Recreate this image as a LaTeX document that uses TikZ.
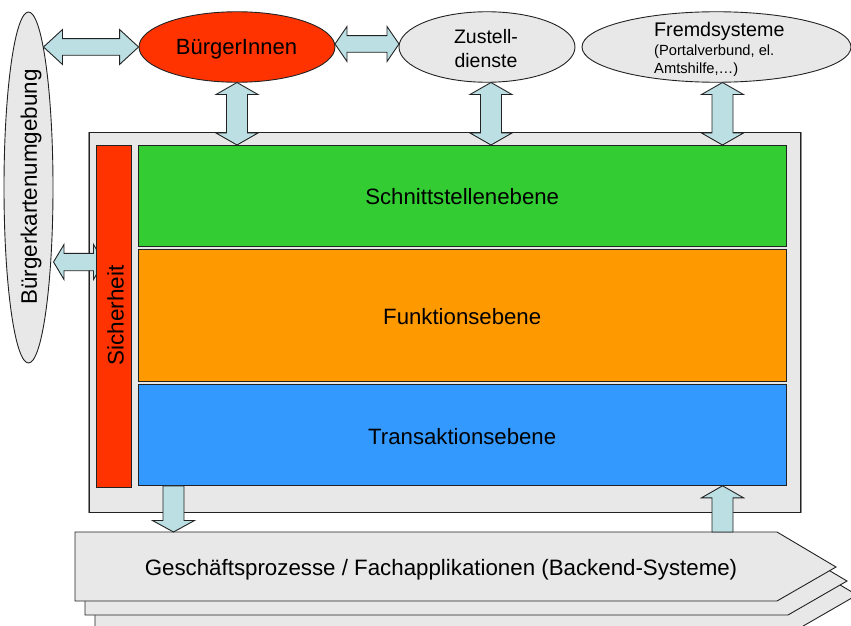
\documentclass[tikz,border=0pt]{standalone}
\usepackage{fontspec}
\setmainfont{Liberation Sans}
\usetikzlibrary{calc,shapes.geometric}
\definecolor{panel}{HTML}{E8E8E8}
\definecolor{arrowfill}{HTML}{BBDFE3}
\definecolor{redfill}{HTML}{FF3300}
\definecolor{greenfill}{HTML}{33CC33}
\definecolor{orangefill}{HTML}{FF9900}
\definecolor{bluefill}{HTML}{3399FF}
\definecolor{edge}{HTML}{222222}
\tikzset{
  oval/.style={ellipse,draw=edge,line width=0.9pt,inner sep=0pt,align=center,text=black},
  layer/.style={rectangle,draw=edge,line width=0.9pt,inner sep=0pt,font=\fontsize{22.2}{26}\selectfont},
  blockarrow/.style={draw=edge,line width=0.9pt,fill=arrowfill},
  sheet/.style={draw=edge,line width=0.9pt,fill=panel,line join=miter},
}
% double block arrow: from, to, shaft half width, head half width, head length
\newcommand\doublearrow[5]{%
  \draw[blockarrow] (#1)
    -- ($(#1)!#5pt!(#2)!#4pt!90:(#2)$)
    -- ($(#1)!#5pt!(#2)!#3pt!90:(#2)$)
    -- ($(#2)!#5pt!(#1)!#3pt!-90:(#1)$)
    -- ($(#2)!#5pt!(#1)!#4pt!-90:(#1)$)
    -- (#2)
    -- ($(#2)!#5pt!(#1)!#4pt!90:(#1)$)
    -- ($(#2)!#5pt!(#1)!#3pt!90:(#1)$)
    -- ($(#1)!#5pt!(#2)!#3pt!-90:(#2)$)
    -- ($(#1)!#5pt!(#2)!#4pt!-90:(#2)$)
    -- cycle;}
% single block arrow: from (flat end), to (tip), shaft half, head half, head length
\newcommand\singlearrow[5]{%
  \draw[blockarrow] ($(#1)!#3pt!90:(#2)$)
    -- ($(#2)!#5pt!(#1)!#3pt!-90:(#1)$)
    -- ($(#2)!#5pt!(#1)!#4pt!-90:(#1)$)
    -- (#2)
    -- ($(#2)!#5pt!(#1)!#4pt!90:(#1)$)
    -- ($(#2)!#5pt!(#1)!#3pt!90:(#1)$)
    -- ($(#1)!#3pt!-90:(#2)$)
    -- cycle;}
\begin{document}
\begin{tikzpicture}[x=1pt,y=-1pt]
\useasboundingbox (0,0) rectangle (851,626);
\clip (0,0) rectangle (851,626);
% ovals
\node[oval,fill=panel,minimum width=49pt,minimum height=351pt] (karte) at (28.5,187.5) {};
\node[inner sep=0pt,rotate=90,font=\fontsize{22.4}{26}\selectfont] (kartetext) at (31,187) {Bürgerkartenumgebung};
\node[oval,fill=redfill,minimum width=196pt,minimum height=70.5pt] (buerger) at (237,47) {};
\node[inner sep=0pt,font=\fontsize{22}{26}\selectfont] (buergertext) at (236.5,49.5) {BürgerInnen};
\node[oval,fill=panel,minimum width=176pt,minimum height=70.5pt] (zustell) at (487,47) {};
\node[inner sep=0pt,align=center,font=\fontsize{19.5}{24}\selectfont] (zustelltext) at (486,49) {Zustell-\\dienste};
\node[oval,fill=panel,minimum width=269pt,minimum height=70.5pt] (fremd) at (716.5,47) {};
\node[anchor=north west,inner sep=0pt,align=left] (fremdtext) at (654,22.5)
  {{\fontsize{19.7}{22}\selectfont Fremdsysteme}\\[3pt]
   {\fontsize{14.7}{17}\selectfont (Portalverbund, el.}\\[3pt]
   {\fontsize{14.7}{17}\selectfont Amtshilfe,…)}};
% shadow and main panel
\draw[line width=1.8pt,draw=black!45] (89.2,132) -- (89.2,512.4) -- (801,512.4) -- (801,132);
\node[rectangle,draw=edge,line width=0.8pt,fill=panel,minimum width=711pt,minimum height=380pt,inner sep=0pt] (panel) at (444.5,322) {};
% layers
\node[layer,fill=greenfill,minimum width=648pt,minimum height=101pt] (schnitt) at (462.2,195.5) {};
\node[layer,fill=orangefill,minimum width=648pt,minimum height=132pt] (funktion) at (462.2,315) {};
\node[layer,fill=bluefill,minimum width=648pt,minimum height=101pt] (transakt) at (462.2,435.3) {};
\node[inner sep=0pt,font=\fontsize{22.2}{26}\selectfont] (schnitttext) at (462.2,197) {Schnittstellenebene};
\node[inner sep=0pt,font=\fontsize{22.2}{26}\selectfont] (funktiontext) at (462.2,317) {Funktionsebene};
\node[inner sep=0pt,font=\fontsize{22.2}{26}\selectfont] (transakttext) at (462.2,437) {Transaktionsebene};
% arrow behind the security bar
\coordinate (sichertip) at (104,262);
\coordinate (kartetip) at (53.5,262);
\doublearrow{kartetip}{sichertip}{8.7}{17.5}{10.5}
\node[layer,fill=redfill,minimum width=35.5pt,minimum height=342pt] (sicher) at (114,316) {};
\node[inner sep=0pt,rotate=90,font=\fontsize{22.5}{26}\selectfont] (sichertext) at (115.5,315.5) {Sicherheit};
% stacked backend sheets
\draw[sheet] (95,560) -- (798,560) -- (857,595) -- (798,629) -- (95,629) -- cycle;
\draw[sheet] (85,546) -- (788,546) -- (847,581) -- (788,615) -- (85,615) -- cycle;
\draw[sheet] (75,532) -- (777,532) -- (836,567) -- (777,601) -- (75,601) -- cycle;
\node[inner sep=0pt,font=\fontsize{22.3}{26}\selectfont] (backend) at (441,569.5) {Geschäftsprozesse / Fachapplikationen (Backend-Systeme)};
% anchors for connectors
\coordinate (backA) at (173.5,532);
\coordinate (backB) at (722.5,532);
\coordinate (transA) at (173.5,485.8);
\coordinate (transB) at (722.5,485.8);
\coordinate (schnittA) at (237,145);
\coordinate (schnittB) at (491,145);
\coordinate (schnittC) at (722.5,145);
\coordinate (buergerS) at (237,82.5);
\coordinate (zustellS) at (491,82.5);
\coordinate (fremdS) at (722.5,82.5);
\coordinate (karteR) at (43.5,47);
\coordinate (bzA) at (335,44);
\coordinate (bzB) at (399,44);
% connectors
\doublearrow{karteR}{buerger.west}{8.3}{17.5}{19}
\doublearrow{bzA}{bzB}{8.3}{17.5}{12}
\doublearrow{buergerS}{schnittA}{10.5}{21}{12}
\doublearrow{zustellS}{schnittB}{10.5}{21}{12}
\doublearrow{fremdS}{schnittC}{10.5}{21}{12}
\singlearrow{transA}{backA}{10.5}{21}{11.5}
\singlearrow{backB}{transB}{10.5}{21}{12}
\end{tikzpicture}
\end{document}
